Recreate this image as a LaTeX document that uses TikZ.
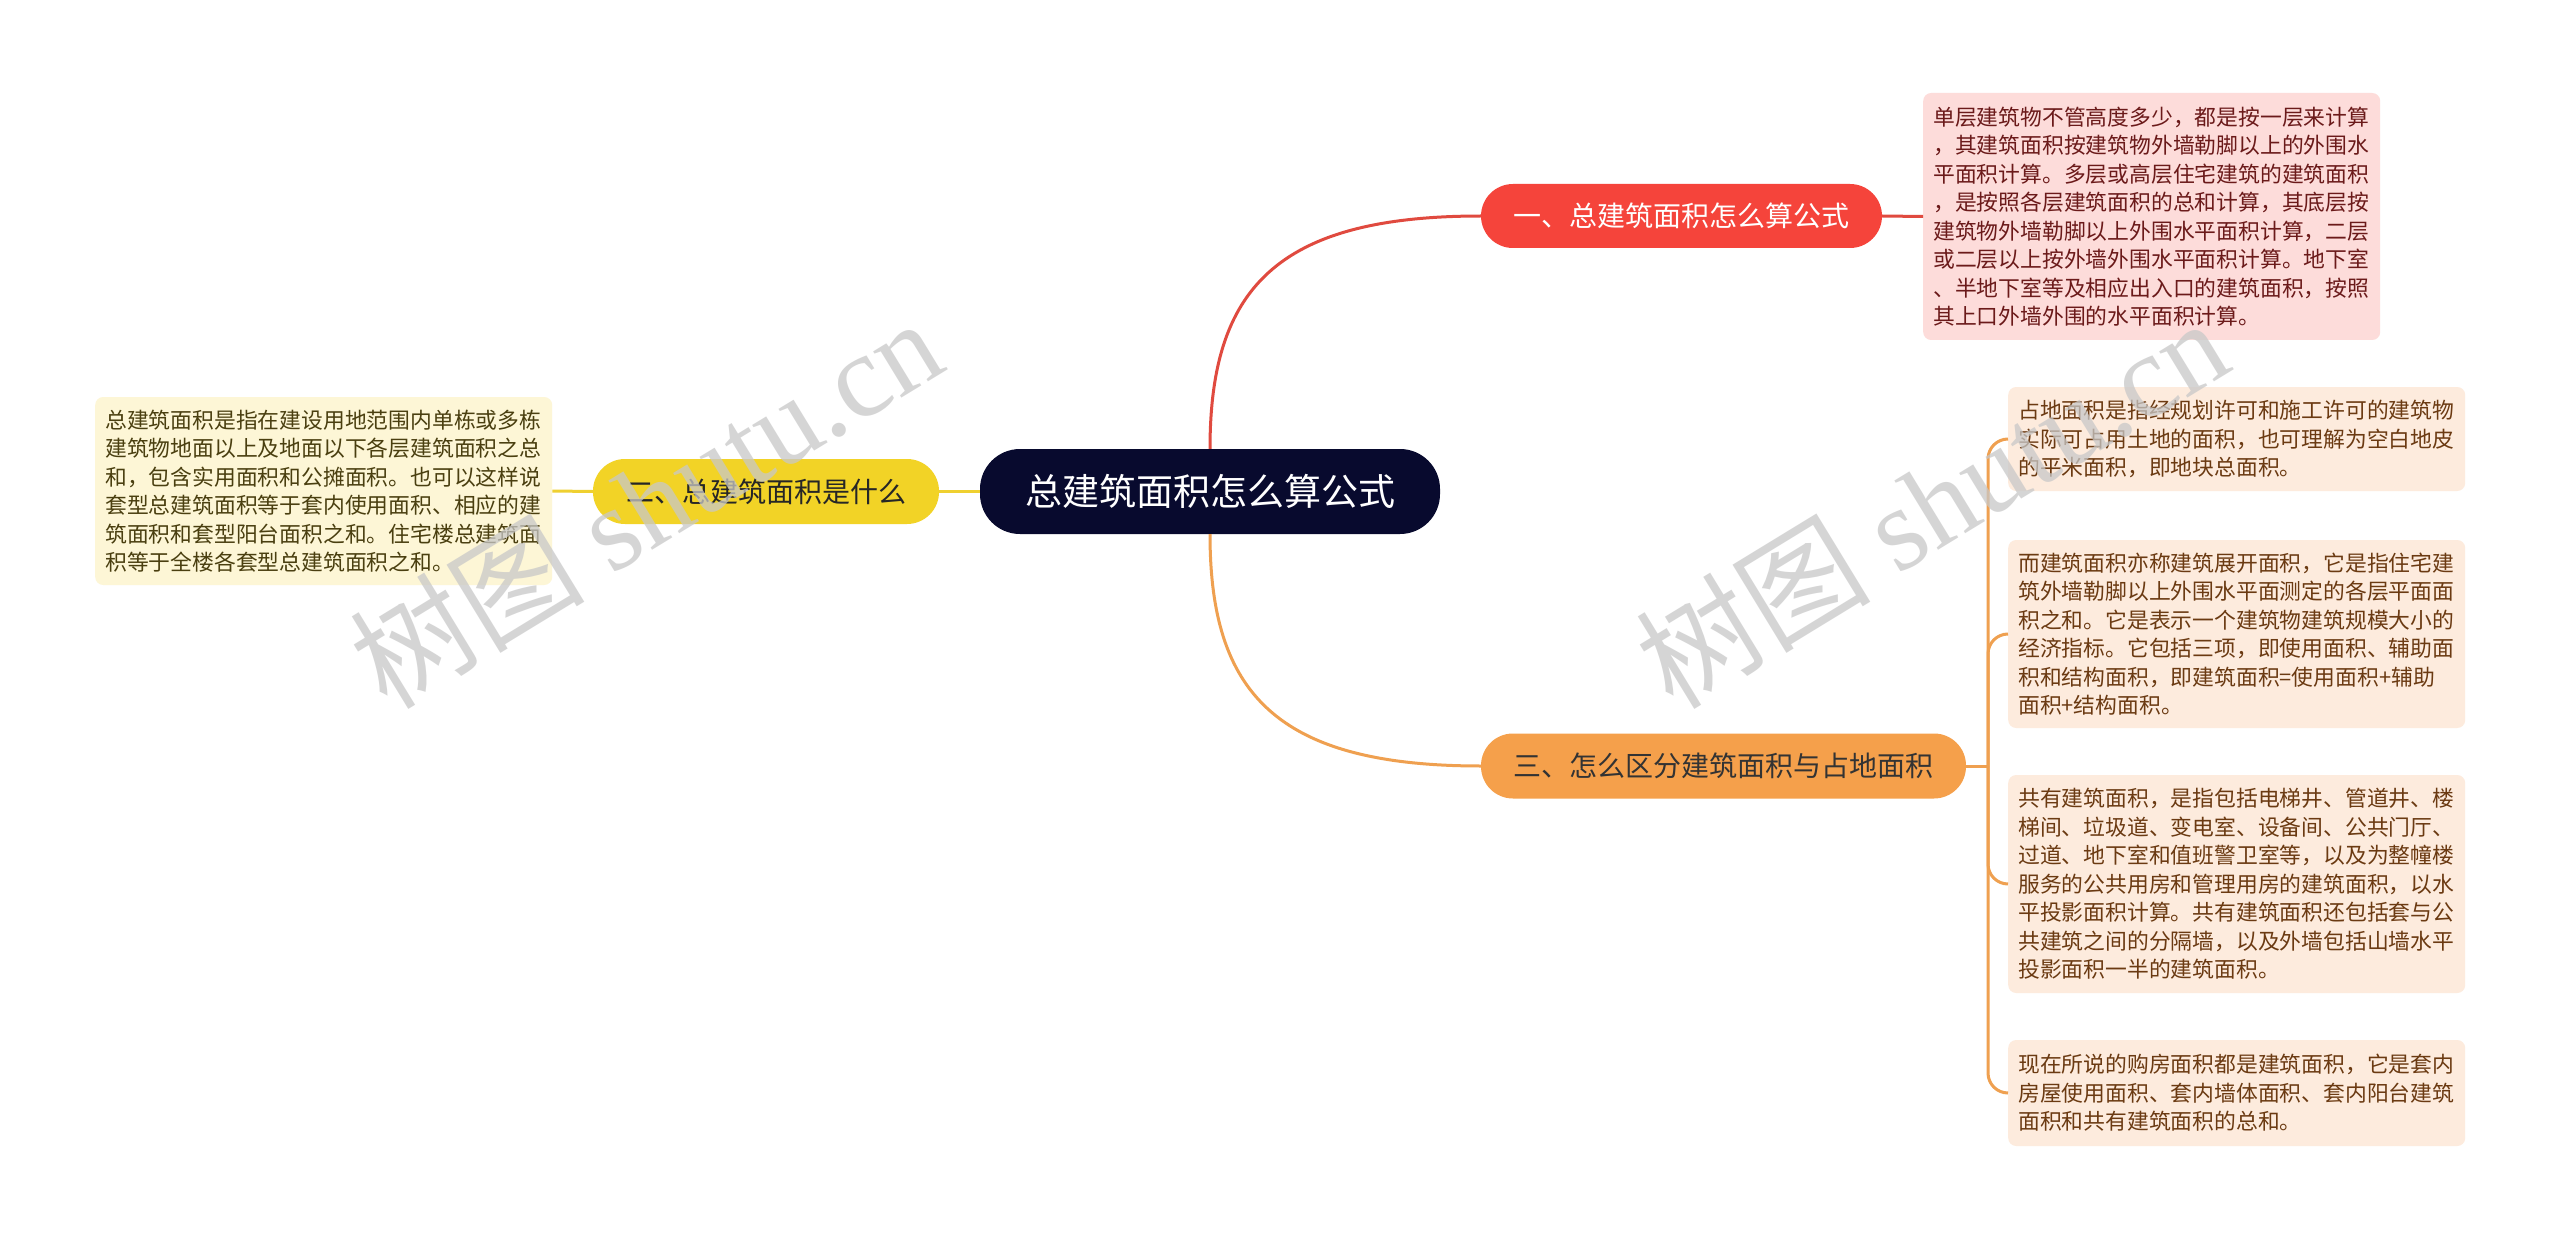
\documentclass[tikz,border=0pt]{standalone}
\usepackage{fontspec}
\setmainfont{Noto Sans CJK SC}
\newfontfamily\wmfont{Liberation Serif}
\definecolor{rootc}{HTML}{080A2E}
\definecolor{redc}{HTML}{F5443B}
\definecolor{redline}{HTML}{E04A3F}
\definecolor{yelc}{HTML}{F2D326}
\definecolor{yelline}{HTML}{EFD030}
\definecolor{orc}{HTML}{F5A04B}
\definecolor{orline}{HTML}{EFA050}
\definecolor{pinkbox}{HTML}{FDDCDA}
\definecolor{pinktext}{HTML}{6B1A1A}
\definecolor{yelbox}{HTML}{FDF6D6}
\definecolor{yeltext}{HTML}{4A3F10}
\definecolor{orbox}{HTML}{FDEBDD}
\definecolor{ortext}{HTML}{6B3A12}
\definecolor{wmc}{HTML}{C8C8C8}
\tikzset{
  pill/.style={inner sep=0pt, align=center},
  notebox/.style={anchor=west, rounded corners=8pt, text width=437pt, inner xsep=10pt, inner ysep=0pt, align=left, font=\fontsize{21.8}{28.5}\selectfont},
  conn/.style={line width=3pt},
  wm/.style={text=wmc, opacity=0.75, font=\fontsize{118}{118}\selectfont, inner sep=0pt}
}
\begin{document}
\begin{tikzpicture}[x=1pt,y=-1pt]
\fill[white] (0,0) rectangle (2560,1241);
\useasboundingbox (0,0) rectangle (2560,1241);

% nodes
\node[pill, fill=rootc, text=white, rounded corners=40pt, minimum width=460pt, minimum height=85pt, font=\fontsize{37}{44}\selectfont] (root) at (1210,491.5) {总建筑面积怎么算公式};
\node[pill, fill=redc, text=white, rounded corners=32pt, minimum width=401pt, minimum height=64pt, font=\fontsize{28}{32}\selectfont] (n1) at (1681.5,216) {一、总建筑面积怎么算公式};
\node[pill, fill=yelc, text={black!85}, rounded corners=32pt, minimum width=346pt, minimum height=65pt, font=\fontsize{28}{32}\selectfont] (n2) at (766,491.5) {二、总建筑面积是什么};
\node[pill, fill=orc, text={black!80}, rounded corners=32pt, minimum width=485pt, minimum height=65pt, font=\fontsize{28}{32}\selectfont] (n3) at (1723.5,766) {三、怎么区分建筑面积与占地面积};

\node[notebox, fill=pinkbox, text=pinktext, minimum height=247pt] (tr) at (1923,216.5) {单层建筑物不管高度多少，都是按一层来计算\\，其建筑面积按建筑物外墙勒脚以上的外围水\\平面积计算。多层或高层住宅建筑的建筑面积\\，是按照各层建筑面积的总和计算，其底层按\\建筑物外墙勒脚以上外围水平面积计算，二层\\或二层以上按外墙外围水平面积计算。地下室\\、半地下室等及相应出入口的建筑面积，按照\\其上口外墙外围的水平面积计算。};

\node[notebox, fill=yelbox, text=yeltext, minimum height=188pt] (lb) at (95,491) {总建筑面积是指在建设用地范围内单栋或多栋\\建筑物地面以上及地面以下各层建筑面积之总\\和，包含实用面积和公摊面积。也可以这样说\\套型总建筑面积等于套内使用面积、相应的建\\筑面积和套型阳台面积之和。住宅楼总建筑面\\积等于全楼各套型总建筑面积之和。};

\node[notebox, fill=orbox, text=ortext, minimum height=104pt] (r1) at (2008,439) {占地面积是指经规划许可和施工许可的建筑物\\实际可占用土地的面积，也可理解为空白地皮\\的平米面积，即地块总面积。};
\node[notebox, fill=orbox, text=ortext, minimum height=188pt] (r2) at (2008,634) {而建筑面积亦称建筑展开面积，它是指住宅建\\筑外墙勒脚以上外围水平面测定的各层平面面\\积之和。它是表示一个建筑物建筑规模大小的\\经济指标。它包括三项，即使用面积、辅助面\\积和结构面积，即建筑面积=使用面积+辅助\\面积+结构面积。};
\node[notebox, fill=orbox, text=ortext, minimum height=218pt] (r3) at (2008,884) {共有建筑面积，是指包括电梯井、管道井、楼\\梯间、垃圾道、变电室、设备间、公共门厅、\\过道、地下室和值班警卫室等，以及为整幢楼\\服务的公共用房和管理用房的建筑面积，以水\\平投影面积计算。共有建筑面积还包括套与公\\共建筑之间的分隔墙，以及外墙包括山墙水平\\投影面积一半的建筑面积。};
\node[notebox, fill=orbox, text=ortext, minimum height=106pt] (r4) at (2008,1093) {现在所说的购房面积都是建筑面积，它是套内\\房屋使用面积、套内墙体面积、套内阳台建筑\\面积和共有建筑面积的总和。};

% connectors
\draw[conn, redline] (root.north) .. controls (1210,290) and (1275,216) .. (n1.west);
\draw[conn, orline] (root.south) .. controls (1210,692) and (1275,766) .. (n3.west);
\draw[conn, yelline] (root.west) -- (n2.east);
\draw[conn, yelline] (n2.west) -- (lb.east);
\draw[conn, redline] (n1.east) -- (tr.west);
\coordinate (J) at (1988,766);
\draw[conn, orline] (n3.east) -- (J);
\foreach \b in {r1,r2,r3,r4}{
  \draw[conn, orline, rounded corners=20pt] (J) -- (J |- \b.west) -- (\b.west);
}

% watermarks
\node[wm, rotate=31.4] (wm1) at (645,502) {树图 {\wmfont shutu.cn}};
\node[wm, rotate=31.4] (wm2) at (1931,502) {树图 {\wmfont shutu.cn}};
\end{tikzpicture}
\end{document}
